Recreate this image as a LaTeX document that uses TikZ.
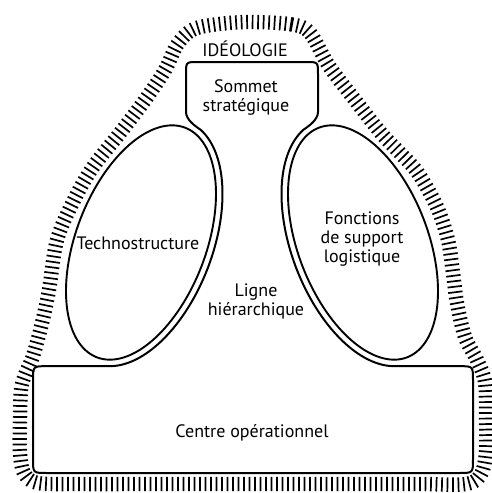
\documentclass[tikz,border=0pt]{standalone}
\usepackage{fontspec}
\setmainfont{PT Sans}
\usetikzlibrary{decorations.pathreplacing}
\begin{document}
\begin{tikzpicture}[x=0.5pt,y=-0.5pt,
  declare function={
    Px(\t)=141+123*cos(\t)*0.35837+65*sin(\t)*0.93358;
    Py(\t)=242.5-123*cos(\t)*0.93358+65*sin(\t)*0.35837;
    Nn(\t)=sqrt((65*cos(\t))^2+(123*sin(\t))^2);
    Qx(\t)=Px(\t)+6.5*(65*cos(\t)*0.35837+123*sin(\t)*0.93358)/Nn(\t);
    Qy(\t)=Py(\t)+6.5*(-65*cos(\t)*0.93358+123*sin(\t)*0.35837)/Nn(\t);
  },
  outline/.style={line width=1pt, line join=round},
  lobe/.style={line width=0.95pt},
  hatch/.style={decorate, decoration={ticks, segment length=2.75pt, amplitude=3.6pt}, line width=0.85pt},
  lbl/.style={font=\fontsize{9}{9.5}\selectfont, inner sep=0pt, align=center}
]
\useasboundingbox (0,0) rectangle (492,493);

% ideology hatching
\draw[hatch] plot[smooth cycle, tension=0.55] coordinates {
  (250,22) (292,24.5) (310,33) (329,66) (355,100) (381,133) (400,153) (418,173)
  (437,207) (448,240) (453,273) (457,303) (465,337) (477,360) (485,382) (486,420)
  (486,452) (481,474) (466,484) (420,484) (350,484) (250,484) (150,484) (80,484)
  (38,483) (24,473) (20,452) (20,420) (21,390) (25,375) (33,356) (42,323) (49,290)
  (57,240) (74,200) (93,167) (120,133) (145,100) (165,70) (177,45) (192,30) (215,24.5)
};

% support units (lobes)
\draw[lobe] plot[domain=0:360, samples=145, variable=\t] ({Px(\t)},{Py(\t)}) -- cycle;
\draw[lobe] plot[domain=0:360, samples=145, variable=\t] ({504-Px(\t)},{Py(\t)}) -- cycle;

% main outline: sommet, ligne hierarchique, centre operationnel
\coordinate (lt) at ({Qx(11.5)},{Qy(11.5)});
\coordinate (rt) at ({504-Qx(11.5)},{Qy(11.5)});
\draw[outline]
  (186,112) -- (186,74) .. controls (186,62) .. (198,62) -- (306,62)
  .. controls (318,62) .. (318,74) -- (318,112)
  .. controls (318,120) and (308.4,126.3) .. (rt)
  -- plot[domain=11.5:168.5, samples=70, variable=\t] ({504-Qx(\t)},{Qy(\t)})
  -- (459,{Qy(168.5)}) .. controls (473,{Qy(168.5)}) .. (473,{Qy(168.5)+14})
  -- (473,459) .. controls (473,473) .. (459,473)
  -- (47,473) .. controls (33,473) .. (33,459)
  -- (33,{Qy(168.5)+14}) .. controls (33,{Qy(168.5)}) .. (47,{Qy(168.5)})
  -- plot[domain=168.5:11.5, samples=70, variable=\t] ({Qx(\t)},{Qy(\t)})
  .. controls (195.6,126.3) and (186,120) .. cycle;

% labels
\node[lbl] (ideo) at (245,49) {IDÉOLOGIE};
\node[lbl] (sommet) at (246,97) {Sommet\\stratégique};
\node[lbl] (techno) at (138,243) {Technostructure};
\node[lbl] (fonctions) at (362,239) {Fonctions\\de support\\logistique};
\node[lbl] (ligne) at (256,301) {Ligne\\hiérarchique};
\node[lbl] (centre) at (252,433) {Centre opérationnel};
\end{tikzpicture}
\end{document}
